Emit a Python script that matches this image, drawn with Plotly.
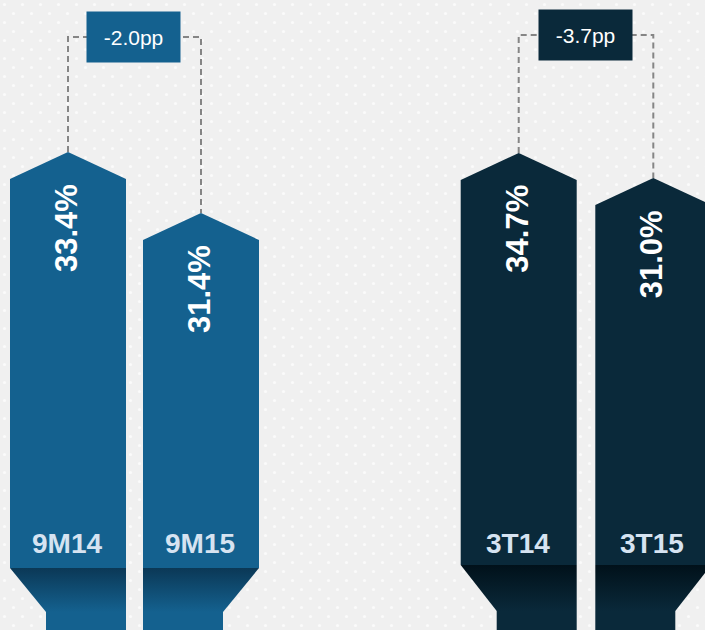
import base64
import plotly.graph_objects as go

# ---------------- data ----------------
group1_labels = ["9M14", "9M15"]
group1_values = [33.4, 31.4]
group1_delta = "-2.0pp"

group2_labels = ["3T14", "3T15"]
group2_values = [34.7, 31.0]
group2_delta = "-3.7pp"

# ---------------- style / layout ----------------
W, H = 705, 630
BLUE, BLUE_DARK = "#14618f", "#0b3856"
NAVY, NAVY_DARK = "#0a293a", "#01111a"
FONT = "Liberation Sans, Arial, sans-serif"

groups = [
    dict(labels=group1_labels, values=group1_values, delta=group1_delta,
         color=BLUE, dark=BLUE_DARK, xa="x", ya="y", xaxis="xaxis", yaxis="yaxis",
         xrange=[-0.5113, 2.1391], yrange=[17.728, 38.384], domain=[0.0, 0.5],
         body_px=568, funnel_px=612, bracket_px=37),
    dict(labels=group2_labels, values=group2_values, delta=group2_delta,
         color=NAVY, dark=NAVY_DARK, xa="x2", ya="y2", xaxis="xaxis2", yaxis="yaxis2",
         xrange=[-1.2348, 1.3841], yrange=[-35.895, 57.343], domain=[0.5, 1.0],
         body_px=565, funnel_px=611, bracket_px=35),
]


def y_at_px(g, px):
    y0, y1 = g["yrange"]
    return y1 - px / H * (y1 - y0)


def dy(g, px):
    y0, y1 = g["yrange"]
    return px / H * (y1 - y0)


def dx(g, px):
    x0, x1 = g["xrange"]
    d0, d1 = g["domain"]
    return px / (W * (d1 - d0)) * (x1 - x0)


fig = go.Figure()
annotations = []

for g in groups:
    hw = dx(g, 58)
    sh = dy(g, 27)
    inset = dx(g, 36)
    yb = y_at_px(g, g["body_px"])
    yf = y_at_px(g, g["funnel_px"])
    ybot = y_at_px(g, H + 5)
    for i, (lab, v) in enumerate(zip(g["labels"], g["values"])):
        c = i
        # body with arrow top
        fig.add_trace(go.Scatter(
            x=[c - hw, c - hw, c, c + hw, c + hw, c - hw],
            y=[yb, v - sh, v, v - sh, yb, yb],
            xaxis=g["xa"], yaxis=g["ya"], mode="lines", fill="toself",
            fillcolor=g["color"], line=dict(width=0), hoverinfo="skip", showlegend=False))
        # funnel + stem geometry
        if i == 0:
            fx = [c - hw, c + hw, c + hw, c - hw + inset, c - hw]
            sl, sr = c - hw + inset, c + hw
        else:
            fx = [c - hw, c + hw, c + hw - inset, c - hw, c - hw]
            sl, sr = c - hw, c + hw - inset
        fig.add_trace(go.Scatter(
            x=fx, y=[yb, yb, yf, yf, yb],
            xaxis=g["xa"], yaxis=g["ya"], mode="lines", fill="toself",
            fillgradient=dict(type="vertical",
                              colorscale=[[0, g["color"]], [1, g["dark"]]]),
            line=dict(width=0), hoverinfo="skip", showlegend=False))
        fig.add_trace(go.Scatter(
            x=[sl, sr, sr, sl, sl], y=[yf, yf, ybot, ybot, yf],
            xaxis=g["xa"], yaxis=g["ya"], mode="lines", fill="toself",
            fillcolor=g["color"], line=dict(width=0), hoverinfo="skip", showlegend=False))
        # value label (rotated)
        annotations.append(dict(
            x=c, y=v, xref=g["xa"], yref=g["ya"], text=f"{v:.1f}%",
            textangle=-90, xanchor="center", yanchor="top", yshift=-30, xshift=-2,
            showarrow=False,
            font=dict(family=FONT, size=31, color="white", weight="bold")))
        # category label
        annotations.append(dict(
            x=c, y=1 - 543.5 / H, xref=g["xa"], yref="paper", text=lab,
            xanchor="center", yanchor="middle", xshift=-1, showarrow=False,
            font=dict(family=FONT, size=28, color="#d6e3f1", weight="bold")))

    # dashed bracket between the two bars
    ytop = y_at_px(g, g["bracket_px"])
    fig.add_trace(go.Scatter(
        x=[0, 0, 1, 1], y=[g["values"][0], ytop, ytop, g["values"][1]],
        xaxis=g["xa"], yaxis=g["ya"], mode="lines",
        line=dict(color="#858585", width=2, dash="6px,4px"),
        hoverinfo="skip", showlegend=False))
    # delta box
    annotations.append(dict(
        x=0.5, y=1 - g["bracket_px"] / H, xref=g["xa"], yref="paper",
        text=g["delta"], showarrow=False, xanchor="center", yanchor="middle",
        width=93, height=50, bgcolor=g["color"], borderpad=0, xshift=-1,
        font=dict(family=FONT, size=21, color="white")))

# dotted background pattern
svg = (
    f'<svg xmlns="http://www.w3.org/2000/svg" width="{W}" height="{H}" viewBox="0 0 {W} {H}">'
    '<defs><pattern id="p" width="18" height="18" patternUnits="userSpaceOnUse">'
    '<rect width="18" height="18" fill="#f0f0f0"/>'
    '<circle cx="4.5" cy="4.5" r="1.6" fill="#fbfbfb"/>'
    '<circle cx="13.5" cy="13.5" r="1.6" fill="#fbfbfb"/>'
    '</pattern></defs>'
    f'<rect width="{W}" height="{H}" fill="url(#p)"/></svg>'
)
src = "data:image/svg+xml;base64," + base64.b64encode(svg.encode()).decode()

layout = dict(
    width=W, height=H, margin=dict(l=0, r=0, t=0, b=0),
    paper_bgcolor="#f1f1f1", plot_bgcolor="rgba(0,0,0,0)",
    showlegend=False, annotations=annotations,
    images=[dict(source=src, xref="paper", yref="paper", x=0, y=1,
                 sizex=1, sizey=1, sizing="stretch", xanchor="left",
                 yanchor="top", layer="below")],
)
for g in groups:
    layout[g["xaxis"]] = dict(domain=g["domain"], range=g["xrange"], visible=False,
                              fixedrange=True, anchor=g["ya"])
    layout[g["yaxis"]] = dict(domain=[0, 1], range=g["yrange"], visible=False,
                              fixedrange=True, anchor=g["xa"])
fig.update_layout(**layout)

fig.write_html("out.html")
